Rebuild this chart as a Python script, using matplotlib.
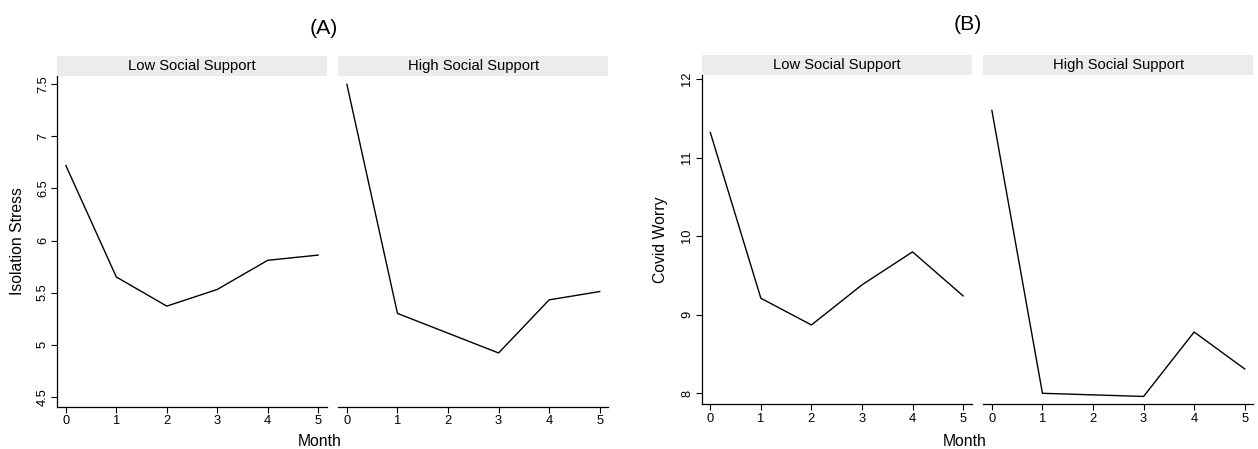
import matplotlib.pyplot as plt
from matplotlib.patches import Rectangle

plt.rcParams['font.family'] = ['Liberation Sans', 'DejaVu Sans']

months = [0, 1, 2, 3, 4, 5]
strips = ['Low Social Support', 'High Social Support']

# (A) isolation stress
stress_low = [6.72, 5.65, 5.37, 5.53, 5.81, 5.86]
stress_high = [7.50, 5.30, 5.11, 4.92, 5.43, 5.51]
stress_ticks = [4.5, 5, 5.5, 6, 6.5, 7, 7.5]
stress_labels = ['4.5', '5', '5.5', '6', '6.5', '7', '7.5']

# (B) covid worry
worry_low = [11.32, 9.21, 8.87, 9.38, 9.80, 9.24]
worry_high = [11.60, 8.00, 7.98, 7.96, 8.78, 8.31]
worry_ticks = [8, 9, 10, 11, 12]
worry_labels = ['8', '9', '10', '11', '12']

W, H = 1258, 449
fig = plt.figure(figsize=(W / 100, H / 100), dpi=100)


def make_axes(left, right, top, bottom):
    return fig.add_axes([left / W, 1 - bottom / H, (right - left) / W, (bottom - top) / H])


def style(ax, show_y, strip_px, height_px, label):
    ax.set_xlim(-0.17, 5.17)
    ax.set_xticks(months)
    ax.tick_params(axis='x', length=4, width=0.8, labelsize=9.3, pad=2)
    for s in ['top', 'right']:
        ax.spines[s].set_visible(False)
    ax.spines['bottom'].set_linewidth(0.9)
    ax.spines['left'].set_linewidth(0.9)
    if not show_y:
        ax.spines['left'].set_visible(False)
        ax.set_yticks([])
    h = strip_px / height_px
    ax.add_patch(Rectangle((0, 1), 1, h, transform=ax.transAxes, clip_on=False,
                           facecolor='#ececec', edgecolor='none'))
    ax.text(0.5, 1 + h / 2, label, transform=ax.transAxes, ha='center', va='center', fontsize=10.6)


panels = [
    # low x-range, high x-range, top, bottom, ylim, data, ticks, labels, ylabel, ylabel x,
    # title, title pos, month label x
    ((57.3, 326.7), (338.3, 608.3), 75.7, 406.7, (4.404, 7.583), stress_low, stress_high,
     stress_ticks, stress_labels, 'Isolation Stress', 17.5, '(A)', (324, 28.5), 320),
    ((701.7, 971.7), (983.3, 1253.3), 74.7, 404.3, (7.86, 12.055), worry_low, worry_high,
     worry_ticks, worry_labels, 'Covid Worry', 660, '(B)', (968, 24.5), 965),
]

for lowx, highx, top, bottom, ylim, lo, hi, ticks, labels, ylabel, ylx, title, tpos, mx in panels:
    ax1 = make_axes(lowx[0], lowx[1], top, bottom)
    ax2 = make_axes(highx[0], highx[1], top, bottom)
    for ax, vals, show_y, lab in [(ax1, lo, True, strips[0]), (ax2, hi, False, strips[1])]:
        ax.plot(months, vals, color='black', linewidth=1.0)
        ax.set_ylim(*ylim)
        style(ax, show_y, 20, bottom - top, lab)
    ax1.set_yticks(ticks)
    ax1.set_yticklabels(labels, rotation=90, va='center')
    ax1.tick_params(axis='y', length=4, width=0.8, labelsize=9.3, pad=2)
    ax1.set_ylabel(ylabel, fontsize=11.3, va='center')
    ax1.yaxis.set_label_coords((ylx - lowx[0]) / (lowx[1] - lowx[0]), 0.5)
    fig.text(tpos[0] / W, 1 - tpos[1] / H, title, ha='center', va='center', fontsize=15.3)
    fig.text(mx / W, 1 - 442 / H, 'Month', ha='center', va='center', fontsize=11.3)

fig.savefig('out.png', dpi=100)
